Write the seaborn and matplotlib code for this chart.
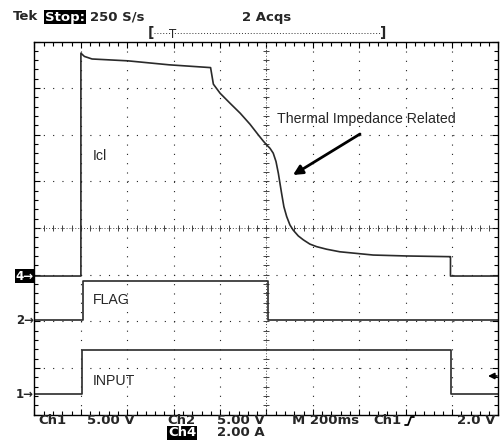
import numpy as np
import pandas as pd
import matplotlib
matplotlib.use("Agg")
import matplotlib.pyplot as plt
from matplotlib.lines import Line2D
import seaborn as sns

# ---------------- data (read from the screen) ----------------
# time in ms (M 200ms/div, 10 div)
icl_t = [0, 200, 200, 215, 248, 403, 580, 759, 771, 800, 843, 887, 929, 965, 986,
         1001, 1015, 1029, 1041, 1051, 1058, 1065, 1075, 1087, 1101, 1115, 1137, 1159,
         1187, 1216, 1259, 1316, 1460, 1604, 1791, 1793, 1793, 2000]
icl_a = [0.0, 0.0, 9.56, 9.42, 9.31, 9.23, 9.06, 8.94, 8.23, 7.84, 7.41, 6.98, 6.51, 6.05, 5.79,
         5.62, 5.48, 5.27, 4.91, 4.41, 3.98, 3.55, 2.97, 2.55, 2.19, 1.97, 1.72, 1.55,
         1.37, 1.26, 1.15, 1.04, 0.90, 0.86, 0.83, 0.83, 0.0, 0.0]
flag_t = [0, 207, 207, 1006, 1006, 2000]
flag_v = [0.0, 0.0, 4.2, 4.2, 0.0, 0.0]
input_t = [0, 205, 205, 1795, 1795, 2000]
input_v = [0.0, 0.0, 4.65, 4.65, 0.0, 0.0]

# channel scales (units/div) and ground positions (div from bottom)
ch4_scale, ch4_gnd = 2.0, 2.97
ch2_scale, ch2_gnd = 5.0, 2.03
ch1_scale, ch1_gnd = 5.0, 0.45

header = ["Tek", "Stop:", "250 S/s", "2 Acqs"]
footer1 = ["Ch1", "5.00 V", "Ch2", "5.00 V", "M 200ms", "Ch1", "2.0 V"]
footer2 = ["Ch4", "2.00 A"]

df = pd.concat([
    pd.DataFrame({"t": icl_t, "div": np.array(icl_a) / ch4_scale + ch4_gnd, "ch": "Ch4"}),
    pd.DataFrame({"t": flag_t, "div": np.array(flag_v) / ch2_scale + ch2_gnd, "ch": "Ch2"}),
    pd.DataFrame({"t": input_t, "div": np.array(input_v) / ch1_scale + ch1_gnd, "ch": "Ch1"}),
], ignore_index=True)

# ---------------- figure ----------------
sns.set_theme(style="white")
plt.rcParams["font.family"] = ["DejaVu Sans"]
plt.rcParams["lines.scale_dashes"] = False

W, H = 502, 447
fig = plt.figure(figsize=(W / 100, H / 100), dpi=100)
fig.patch.set_facecolor("white")

L, R, T, B = 34.5, 498.5, 41.5, 414.5
ax = fig.add_axes([L / W, 1 - B / H, (R - L) / W, (B - T) / H])
ax.set_facecolor("white")

def px(x, y):
    return (x / W, 1 - y / H)

# graticule
ax.set_xlim(0, 2000)
ax.set_ylim(0, 8)
ax.set_xticks(np.arange(0, 2001, 200))
ax.set_yticks(np.arange(0, 9, 1))
ax.set_xticks(np.arange(0, 2001, 40), minor=True)
ax.set_yticks(np.arange(0, 8.01, 0.2), minor=True)
ax.tick_params(which="both", direction="in", top=True, right=True, bottom=True, left=True,
               labelbottom=False, labelleft=False, color="black", width=0.8)
ax.tick_params(which="major", length=4)
ax.tick_params(which="minor", length=3)
dot = (0, (0.8, 5.9))
ax.grid(True, which="major", color="#222222", linewidth=0.8, linestyle=dot)
for s in ax.spines.values():
    s.set_color("black")
    s.set_linewidth(1.0)

# center cross with fine dots and ticks
ax.axvline(1000, color="#444444", lw=0.7, ls=(0, (0.7, 1.4)))
ax.axhline(4, color="#444444", lw=0.7, ls=(0, (0.7, 1.4)))
xs = np.arange(0, 2001, 40)
ax.plot(xs, np.full(len(xs), 4.0), ls="none", marker="|", ms=5, mew=0.7, color="#444444")
ys = np.arange(0, 8.01, 0.2)
ax.plot(np.full(len(ys), 1000.0), ys, ls="none", marker="_", ms=5, mew=0.7, color="#444444")

# traces
sns.lineplot(data=df, x="t", y="div", hue="ch", estimator=None, sort=False,
             palette={"Ch4": "#2a2a2a", "Ch2": "#2a2a2a", "Ch1": "#2a2a2a"},
             linewidth=1.2, legend=False, ax=ax)
ax.set_xlabel("")
ax.set_ylabel("")

# ---------------- text ----------------
hfont = dict(family=["DejaVu Sans"], fontweight="bold", fontsize=9.5, va="center", ha="left")
fig.text(*px(13, 17), header[0], **hfont)
fig.text(*px(45, 17), header[1], color="white",
         bbox=dict(facecolor="black", edgecolor="none", pad=0.6), **hfont)
fig.text(*px(90, 17), header[2], **hfont)
fig.text(*px(242, 17), header[3], **hfont)

# record bracket
fig.text(*px(151, 33), "[", fontsize=10, va="center", ha="center", fontweight="bold")
fig.text(*px(383, 33), "]", fontsize=10, va="center", ha="center", fontweight="bold")
fig.add_artist(Line2D([154 / W, 381 / W], [1 - 32.5 / H, 1 - 32.5 / H], color="#333333",
                      lw=0.7, ls=(0, (0.7, 1.4)), transform=fig.transFigure))
fig.text(*px(173, 34), "T", fontsize=8.5, va="center", ha="center")

# footer
ffont = dict(family=["DejaVu Sans"], fontweight="bold", fontsize=9.5, va="center", ha="left")
for x, s in zip([38, 87, 167, 217, 292, 373, 457], footer1):
    fig.text(*px(x, 421), s, **ffont)
fig.text(*px(168, 433), footer2[0], color="white",
         bbox=dict(facecolor="black", edgecolor="none", pad=0.6), **ffont)
fig.text(*px(217, 433), footer2[1], **ffont)
# rising edge trigger symbol
fig.add_artist(Line2D([405 / W, 408 / W, 411 / W, 414 / W],
                      [1 - 425 / H, 1 - 425 / H, 1 - 417 / H, 1 - 417 / H],
                      color="black", lw=1.3, transform=fig.transFigure))

# channel markers on the left
mfont = dict(family=["DejaVu Sans"], fontweight="bold", fontsize=8.5, va="center", ha="right")
fig.text(*px(34, 276), "4\u2192", color="white",
         bbox=dict(facecolor="black", edgecolor="none", pad=0.5), **mfont)
fig.text(*px(34, 320), "2\u2192", **mfont)
fig.text(*px(34, 394), "1\u2192", **mfont)

# trigger level marker on the right
ax.annotate("", xy=px(488, 376), xytext=px(497, 376), xycoords="figure fraction",
            textcoords="figure fraction",
            arrowprops=dict(arrowstyle="-|>", color="black", lw=1.2, mutation_scale=9,
                            shrinkA=0, shrinkB=0))

# annotations
afont = dict(family=["Liberation Sans", "DejaVu Sans"], fontsize=10.2, va="center", ha="left")
fig.text(*px(93, 156), "Icl", **afont)
fig.text(*px(93, 300), "FLAG", **afont)
fig.text(*px(93, 381), "INPUT", **afont)
fig.text(*px(277, 118.5), "Thermal Impedance Related", **afont)
ax.annotate("", xy=px(293, 175), xytext=px(360, 134), xycoords="figure fraction",
            textcoords="figure fraction",
            arrowprops=dict(arrowstyle="-|>", color="black", lw=2.0, mutation_scale=14,
                            shrinkA=0, shrinkB=0))

fig.savefig("out.png", dpi=100, facecolor="white")
